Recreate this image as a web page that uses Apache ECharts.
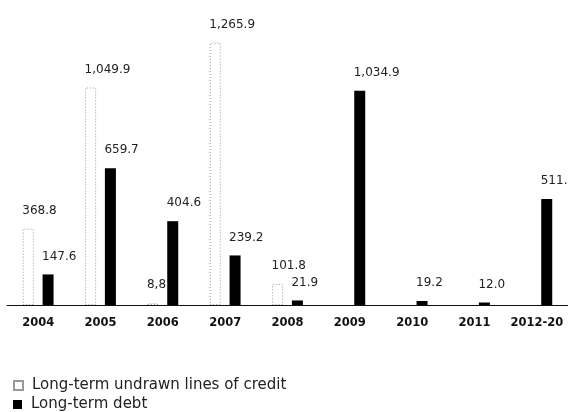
<!DOCTYPE html>
<html>
<head>
<meta charset="utf-8">
<script src="https://cdn.jsdelivr.net/npm/echarts@6/dist/echarts.min.js"></script>
<style>
  html, body { margin: 0; padding: 0; background: #fff; }
  #chart { width: 568px; height: 412px; }
</style>
</head>
<body>
<div id="chart"></div>
<script>
// categories and values as printed on the chart
var years = ['2004', '2005', '2006', '2007', '2008', '2009', '2010', '2011', '2012-20'];
var undrawnCredit = [368.8, 1049.9, 8.8, 1265.9, 101.8, null, null, null, null];
var longTermDebt = [147.6, 659.7, 404.6, 239.2, 21.9, 1034.9, 19.2, 12.0, 511.2];
// label texts exactly as printed (note the "8,8")
var creditLabels = ['368.8', '1,049.9', '8,8', '1,265.9', '101.8', '', '', '', ''];
var debtLabels = ['147.6', '659.7', '404.6', '239.2', '21.9', '1,034.9', '19.2', '12.0', '511.2'];

var chart = echarts.init(document.getElementById('chart'));

var labelStyle = {
    show: true,
    position: 'top',
    align: 'left',
    offset: [-6, 0],
    distance: 12,
    color: '#222',
    fontSize: 12,
    fontFamily: 'DejaVu Sans'
};

var legendText = {
    color: '#222',
    fontSize: 15,
    fontFamily: 'DejaVu Sans',
    padding: [0, 0, 0, 4]
};

var option = {
    animation: false,
    grid: {
        left: 7,
        width: 564,
        top: 15,
        bottom: 107   // baseline sits around y=305
    },
    // two stacked legend rows, bottom left
    legend: [
        {
            left: 8,
            top: 373,
            icon: 'rect',
            itemWidth: 9,
            itemHeight: 9,
            textStyle: legendText,
            data: ['Long-term undrawn lines of credit']
        },
        {
            left: 8,
            top: 392,
            icon: 'rect',
            itemWidth: 9,
            itemHeight: 9,
            textStyle: legendText,
            data: ['Long-term debt']
        }
    ],
    xAxis: {
        type: 'category',
        data: years,
        axisLine: { lineStyle: { color: '#111', width: 1.2 } },
        axisTick: { show: false },
        axisLabel: {
            color: '#111',
            fontWeight: 'bold',
            fontSize: 11.5,
            fontFamily: 'DejaVu Sans',
            margin: 12,
            interval: 0
        }
    },
    yAxis: {
        type: 'value',
        min: 0,
        max: 1400,
        show: false,
        splitLine: { show: false }
    },
    series: [
        {
            name: 'Long-term undrawn lines of credit',
            type: 'bar',
            data: undrawnCredit,
            barWidth: 11,
            barGap: '80%',
            itemStyle: {
                color: '#fff',
                borderColor: '#999',
                borderWidth: 1,
                borderType: [1, 2]
            },
            label: Object.assign({}, labelStyle, {
                formatter: function (p) { return creditLabels[p.dataIndex]; }
            })
        },
        {
            name: 'Long-term debt',
            type: 'bar',
            data: longTermDebt,
            barWidth: 11,
            itemStyle: { color: '#000' },
            label: Object.assign({}, labelStyle, {
                formatter: function (p) { return debtLabels[p.dataIndex]; }
            })
        }
    ]
};

chart.setOption(option);
</script>
</body>
</html>
